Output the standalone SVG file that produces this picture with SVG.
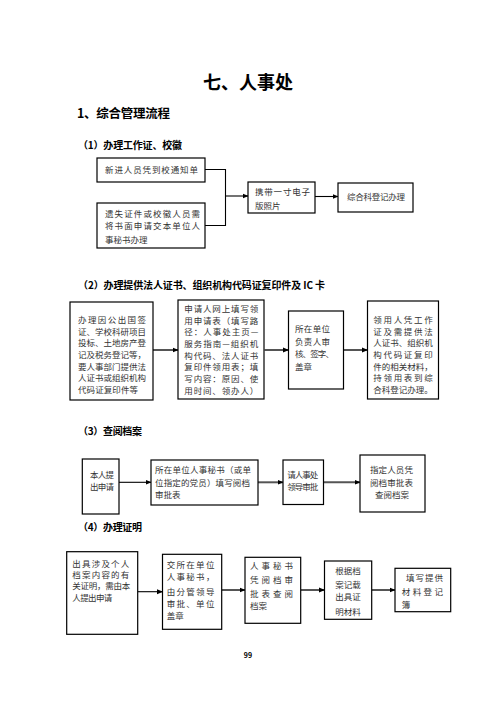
<svg xmlns="http://www.w3.org/2000/svg" width="496" height="702" viewBox="0 0 496 702">
<style>
.bg{fill:#fff}
.box{fill:#fff;stroke:#000;stroke-width:1.2}
.t{font-family:"Noto Sans CJK SC","Liberation Sans",sans-serif;font-size:8.5px;fill:#333}
.h{font-family:"Noto Sans CJK SC","Liberation Sans",sans-serif;font-weight:bold;fill:#000}
.ln{fill:none;stroke:#000;stroke-width:1.1}
.a1{fill:none;stroke:#000;stroke-width:1.1;marker-end:url(#ah)}
.a2{fill:none;stroke:#555;stroke-width:2;marker-end:url(#ah)}
</style>
<defs>
<marker id="ah" markerUnits="userSpaceOnUse" markerWidth="6" markerHeight="6" refX="5.5" refY="3" orient="auto">
<path d="M0,0.5 L6,3 L0,5.5 z" fill="#000"/>
</marker>
</defs>
<rect class="bg" x="0" y="0" width="496" height="702"/>

<g id="headings">
<text class="h" x="248" y="89" font-size="18" text-anchor="middle">七、人事处</text>
<text class="h" x="77" y="118" font-size="12.5" textLength="93" lengthAdjust="spacing">1、综合管理流程</text>
<text class="h" x="78" y="149" font-size="10" textLength="104" lengthAdjust="spacing">（1）办理工作证、校徽</text>
<text class="h" x="78" y="289" font-size="10" textLength="247" lengthAdjust="spacing">（2）办理提供法人证书、组织机构代码证复印件及 IC 卡</text>
<text class="h" x="78" y="434.5" font-size="10" textLength="64" lengthAdjust="spacing">（3）查阅档案</text>
<text class="h" x="78" y="531" font-size="10" textLength="64" lengthAdjust="spacing">（4）办理证明</text>
<text class="h" x="248" y="658" font-size="7" text-anchor="middle">99</text>
</g>

<g id="connectors">
<polyline class="ln" points="205,169.5 225.5,169.5 225.5,225.5 205,225.5"/>
<line class="a1" x1="225.5" y1="196" x2="248" y2="196"/>
<line class="a1" x1="315" y1="196.5" x2="338" y2="196.5"/>
<line class="a2" x1="153" y1="350" x2="178" y2="350"/>
<line class="a2" x1="264.5" y1="350" x2="288.5" y2="350"/>
<line class="a2" x1="343.5" y1="350" x2="367.5" y2="350"/>
<line class="a1" x1="119" y1="482.3" x2="151" y2="482.3"/>
<line class="a2" x1="258" y1="482.3" x2="283" y2="482.3"/>
<line class="a2" x1="323.5" y1="482.3" x2="360" y2="482.3"/>
<line class="a1" x1="138" y1="591.7" x2="162.5" y2="591.7"/>
<line class="a2" x1="222" y1="590" x2="245" y2="590"/>
<line class="a2" x1="301" y1="590" x2="324.5" y2="590"/>
<line class="a2" x1="372" y1="590" x2="395" y2="590"/>
</g>

<g id="s1-n1">
<rect class="box" x="97" y="158" width="108" height="24"/>
<text class="t" x="105" y="173" textLength="93" lengthAdjust="spacing">新进人员凭到校通知单</text>
</g>
<g id="s1-n2">
<rect class="box" x="97" y="203" width="108" height="45"/>
<text class="t" x="105" y="216.5" textLength="95" lengthAdjust="spacing">遗失证件或校徽人员需</text>
<text class="t" x="105" y="229" textLength="95" lengthAdjust="spacing">将书面申请交本单位人</text>
<text class="t" x="105" y="242.5">事秘书办理</text>
</g>
<g id="s1-n3">
<rect class="box" x="248" y="182" width="67" height="31"/>
<text class="t" x="255" y="195" textLength="55" lengthAdjust="spacing">携带一寸电子</text>
<text class="t" x="255" y="208.5">版照片</text>
</g>
<g id="s1-n4">
<rect class="box" x="338" y="183" width="75" height="29"/>
<text class="t" x="347" y="200" textLength="58" lengthAdjust="spacing">综合科登记办理</text>
</g>

<g id="s2-n1">
<rect class="box" x="70" y="302" width="83" height="98"/>
<text class="t" x="78" y="323" textLength="68" lengthAdjust="spacing">办理因公出国签</text>
<text class="t" x="78" y="334.7" textLength="68" lengthAdjust="spacing">证、学校科研项目</text>
<text class="t" x="78" y="346.3" textLength="68" lengthAdjust="spacing">投标、土地房产登</text>
<text class="t" x="78" y="358" textLength="68" lengthAdjust="spacing">记及税务登记等，</text>
<text class="t" x="78" y="369.7" textLength="68" lengthAdjust="spacing">要人事部门提供法</text>
<text class="t" x="78" y="381.3" textLength="68" lengthAdjust="spacing">人证书或组织机构</text>
<text class="t" x="78" y="393" textLength="60" lengthAdjust="spacing">代码证复印件等</text>
</g>
<g id="s2-n2">
<rect class="box" x="178" y="300" width="86" height="99"/>
<text class="t" x="184.3" y="312" textLength="74" lengthAdjust="spacing">申请人网上填写领</text>
<text class="t" x="184.3" y="323.7" textLength="74" lengthAdjust="spacing">用申请表（填写路</text>
<text class="t" x="184.3" y="335.3" textLength="74" lengthAdjust="spacing">径：人事处主页—</text>
<text class="t" x="184.3" y="347" textLength="74" lengthAdjust="spacing">服务指南—组织机</text>
<text class="t" x="184.3" y="358.7" textLength="74" lengthAdjust="spacing">构代码、法人证书</text>
<text class="t" x="184.3" y="370.3" textLength="74" lengthAdjust="spacing">复印件领用表；填</text>
<text class="t" x="184.3" y="382" textLength="74" lengthAdjust="spacing">写内容：原因、使</text>
<text class="t" x="184.3" y="393.7" textLength="74" lengthAdjust="spacing">用时间、领办人）</text>
</g>
<g id="s2-n3">
<rect class="box" x="288.5" y="311" width="55" height="78"/>
<text class="t" x="295" y="332" textLength="35" lengthAdjust="spacing">所在单位</text>
<text class="t" x="295" y="344.5" textLength="35" lengthAdjust="spacing">负责人审</text>
<text class="t" x="295" y="357" textLength="39" lengthAdjust="spacing">核、签字、</text>
<text class="t" x="295" y="369.5">盖章</text>
</g>
<g id="s2-n4">
<rect class="box" x="367.5" y="301" width="71" height="98"/>
<text class="t" x="373.3" y="323" textLength="59.4" lengthAdjust="spacing">领用人凭工作</text>
<text class="t" x="373.3" y="334.7" textLength="59.4" lengthAdjust="spacing">证及需提供法</text>
<text class="t" x="373.3" y="346.3" textLength="59.4" lengthAdjust="spacing">人证书、组织机</text>
<text class="t" x="373.3" y="358" textLength="59.4" lengthAdjust="spacing">构代码证复印</text>
<text class="t" x="373.3" y="369.7" textLength="59.4" lengthAdjust="spacing">件的相关材料，</text>
<text class="t" x="373.3" y="381.3" textLength="59.4" lengthAdjust="spacing">持领用表到综</text>
<text class="t" x="373.3" y="393" textLength="59.4" lengthAdjust="spacing">合科登记办理。</text>
</g>

<g id="s3-n1">
<rect class="box" x="82.3" y="459" width="36.7" height="55"/>
<text class="t" x="90" y="477.5" textLength="24" lengthAdjust="spacing">本人提</text>
<text class="t" x="90" y="489.7" textLength="24" lengthAdjust="spacing">出申请</text>
</g>
<g id="s3-n2">
<rect class="box" x="151" y="460" width="107" height="45"/>
<text class="t" x="155" y="473" textLength="96" lengthAdjust="spacing">所在单位人事秘书（或单</text>
<text class="t" x="155" y="485.7" textLength="95" lengthAdjust="spacing">位指定的党员）填写阅档</text>
<text class="t" x="155" y="498">审批表</text>
</g>
<g id="s3-n3">
<rect class="box" x="283" y="460" width="40.5" height="44.5"/>
<text class="t" x="287.3" y="478" textLength="31" lengthAdjust="spacing">请人事处</text>
<text class="t" x="287.3" y="490" textLength="31" lengthAdjust="spacing">领导审批</text>
</g>
<g id="s3-n4">
<rect class="box" x="360" y="455" width="65" height="57"/>
<text class="t" x="370" y="472.5" textLength="43" lengthAdjust="spacing">指定人员凭</text>
<text class="t" x="370" y="485.5" textLength="43" lengthAdjust="spacing">阅档审批表</text>
<text class="t" x="392" y="498" text-anchor="middle">查阅档案</text>
</g>

<g id="s4-n1">
<rect class="box" x="66.7" y="551.7" width="71" height="82.6"/>
<text class="t" x="72.3" y="566.5" textLength="57" lengthAdjust="spacing">出具涉及个人</text>
<text class="t" x="72.3" y="577.5" textLength="57" lengthAdjust="spacing">档案内容的有</text>
<text class="t" x="72.3" y="589" textLength="58" lengthAdjust="spacing">关证明，需由本</text>
<text class="t" x="72.3" y="600.5" textLength="40" lengthAdjust="spacing">人提出申请</text>
</g>
<g id="s4-n2">
<rect class="box" x="162.5" y="554.3" width="59.2" height="75"/>
<text class="t" x="166.7" y="568" textLength="47.7" lengthAdjust="spacing">交所在单位</text>
<text class="t" x="166.7" y="580" textLength="47.7" lengthAdjust="spacing">人事秘书，</text>
<text class="t" x="166.7" y="595" textLength="47.7" lengthAdjust="spacing">由分管领导</text>
<text class="t" x="166.7" y="606.5" textLength="47.7" lengthAdjust="spacing">审批、单位</text>
<text class="t" x="166.7" y="619">盖章</text>
</g>
<g id="s4-n3">
<rect class="box" x="245" y="557.3" width="55.7" height="66"/>
<text class="t" x="250" y="569" textLength="43" lengthAdjust="spacing">人事秘书</text>
<text class="t" x="250" y="582.5" textLength="43" lengthAdjust="spacing">凭阅档审</text>
<text class="t" x="250" y="596.5" textLength="43" lengthAdjust="spacing">批表查阅</text>
<text class="t" x="250" y="609">档案</text>
</g>
<g id="s4-n4">
<rect class="box" x="324.5" y="561" width="47.2" height="58.3"/>
<text class="t" x="348" y="574" text-anchor="middle">根据档</text>
<text class="t" x="348" y="587.5" text-anchor="middle">案记载</text>
<text class="t" x="348" y="600" text-anchor="middle">出具证</text>
<text class="t" x="348" y="615" text-anchor="middle">明材料</text>
</g>
<g id="s4-n5">
<rect class="box" x="395" y="568.3" width="55.7" height="43.4"/>
<text class="t" x="406" y="580.5" textLength="37" lengthAdjust="spacing">填写提供</text>
<text class="t" x="401.7" y="595" textLength="41.3" lengthAdjust="spacing">材料登记</text>
<text class="t" x="401.7" y="607.5">簿</text>
</g>
</svg>
